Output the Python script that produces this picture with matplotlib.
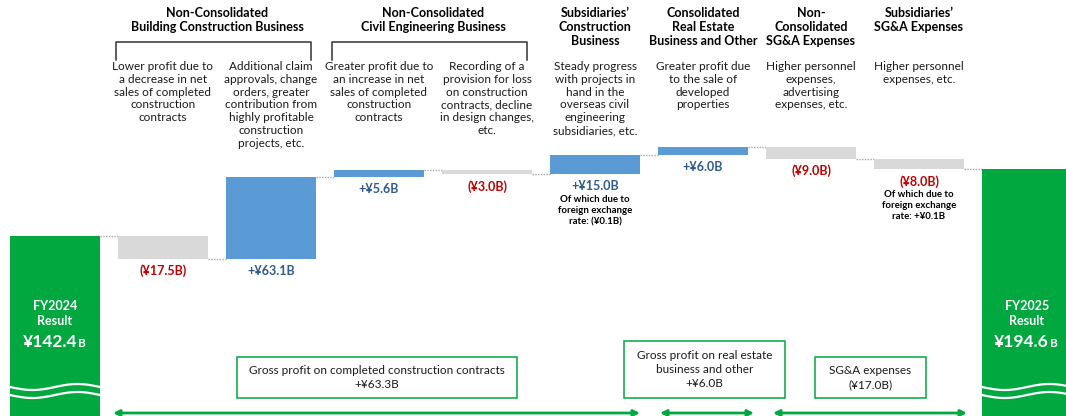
import matplotlib
matplotlib.use("Agg")
import matplotlib.pyplot as plt
import numpy as np
from matplotlib.patches import Rectangle, FancyArrowPatch

plt.rcParams['font.family'] = ['Lato', 'DejaVu Sans']

# ---------------- data ----------------
start_label = "FY2024\nResult"
start_value = 142.4
end_label = "FY2025\nResult"
end_value = 194.6
steps = [-17.5, 63.1, 5.6, -3.0, 15.0, 6.0, -9.0, -8.0]
step_labels = ["(¥17.5B)", "+¥63.1B", "+¥5.6B", "(¥3.0B)", "+¥15.0B", "+¥6.0B", "(¥9.0B)", "(¥8.0B)"]
fx_notes = {4: "Of which due to\nforeign exchange\nrate: (¥0.1B)", 7: "Of which due to\nforeign exchange\nrate: +¥0.1B"}
descriptions = [
    "Lower profit due to\na decrease in net\nsales of completed\nconstruction\ncontracts",
    "Additional claim\napprovals, change\norders, greater\ncontribution from\nhighly profitable\nconstruction\nprojects, etc.",
    "Greater profit due to\nan increase in net\nsales of completed\nconstruction\ncontracts",
    "Recording of a\nprovision for loss\non construction\ncontracts, decline\nin design changes,\netc.",
    "Steady progress\nwith projects in\nhand in the\noverseas civil\nengineering\nsubsidiaries, etc.",
    "Greater profit due\nto the sale of\ndeveloped\nproperties",
    "Higher personnel\nexpenses,\nadvertising\nexpenses, etc.",
    "Higher personnel\nexpenses, etc.",
]
group_headers = [
    ("Non-Consolidated\nBuilding Construction Business", 1, 2),
    ("Non-Consolidated\nCivil Engineering Business", 3, 4),
]
single_headers = {5: "Subsidiaries’\nConstruction\nBusiness",
                  6: "Consolidated\nReal Estate\nBusiness and Other",
                  7: "Non-\nConsolidated\nSG&A Expenses",
                  8: "Subsidiaries’\nSG&A Expenses"}
summary_boxes = [
    ("Gross profit on completed construction contracts\n+¥63.3B", 1, 4),
    ("Gross profit on real estate\nbusiness and other\n+¥6.0B", 5, 5),
    ("SG&A expenses\n(¥17.0B)", 6, 7),
]

GREEN = "#00A83F"
BLUE = "#5B9BD5"
GRAY = "#D9D9D9"
RED = "#C00000"
DBLUE = "#2F5B8C"

W, H = 1066, 416
fig = plt.figure(figsize=(W / 100, H / 100), dpi=100)
ax = fig.add_axes([0, 0, 1, 1])
PXU = 1.29
Y0 = 3.0
ax.set_xlim(-55 / 108, (W - 55) / 108)
ax.set_ylim(Y0, Y0 + H / PXU)
ax.axis('off')

def X(px):
    return (px - 55) / 108

def Y(py):
    return Y0 + (H - py) / PXU

bw = 90 / 108
# cumulative
levels = [start_value]
for s in steps:
    levels.append(levels[-1] + s)

# start / end bars
ax.bar([0], [start_value], width=bw, bottom=0, color=GREEN, zorder=2)
ax.bar([9], [end_value], width=bw, bottom=0, color=GREEN, zorder=2)

# step bars
for i, s in enumerate(steps):
    xi = i + 1
    lo = min(levels[i], levels[i + 1])
    col = BLUE if s > 0 else GRAY
    ax.bar([xi], [abs(s)], width=bw, bottom=lo, color=col, zorder=2)
    # connector
    ax.plot([xi - 1 + bw / 2, xi - bw / 2], [levels[i], levels[i]], ls=(0, (1, 1)),
            color="#A6A6A6", lw=1, zorder=1)
    # value label
    tc = DBLUE if s > 0 else RED
    ax.annotate(step_labels[i], (xi, lo), xytext=(0, -6), textcoords='offset pixels',
                ha='center', va='top', fontsize=9, fontweight='bold', color=tc)
    if i in fx_notes:
        ax.annotate(fx_notes[i], (xi, lo), xytext=(0, -21), textcoords='offset pixels',
                    ha='center', va='top', fontsize=6.9, fontweight='bold', color='black',
                    linespacing=1.3)
    # description
    ax.text(xi, Y(61), descriptions[i], ha='center', va='top', fontsize=8.5,
            color='#1a1a1a', linespacing=1.2)
ax.plot([8 + bw / 2, 9 - bw / 2], [levels[-1], levels[-1]], ls=(0, (1, 1)),
        color="#A6A6A6", lw=1, zorder=1)

# headers
for txt, a, b in group_headers:
    xc = (a + b) / 2
    ax.text(xc, Y(7), txt, ha='center', va='top', fontsize=9, fontweight='bold',
            linespacing=1.2)
    xl = a - bw / 2 - 0.02
    xr = b + bw / 2 - 0.05
    ax.plot([xl, xl, xr, xr], [Y(60), Y(42), Y(42), Y(60)], color='#333333', lw=1.1)
for i, txt in single_headers.items():
    ax.text(i, Y(7), txt, ha='center', va='top', fontsize=9, fontweight='bold',
            linespacing=1.2)

# start/end bar text
fig.canvas.draw()
for xi, lab, val in [(0, start_label, start_value), (9, end_label, end_value)]:
    ax.text(xi, Y(300), lab, ha='center', va='top', color='white', fontsize=9,
            fontweight='bold', linespacing=1.3)
    s = f"¥{val:.1f}"
    t = ax.text(xi - 0.05, Y(342), s, ha='center', va='center', color='white',
                fontsize=12.5, fontweight='bold')
    ax.annotate("B", xy=(1, 0.2), xycoords=t, xytext=(1, 0), textcoords='offset pixels',
                ha='left', va='baseline', color='white', fontsize=8.5, fontweight='bold')
    # wavy break lines
    xx = np.linspace(xi - bw / 2, xi + bw / 2, 100)
    ph = np.sin((xx - (xi - bw / 2)) / bw * 2 * np.pi + np.pi)
    for off in (387, 395):
        ax.plot(xx, Y(off) + ph * 3.0 / PXU, color='white', lw=1.6, zorder=3)

# summary boxes and arrows
box_px = [(237, 357, 517, 398), (624, 341, 785, 398), (815, 357, 926, 398)]
arrow_px = [(113, 640), (660, 754), (773, 967)]
for (txt, a, b), (x0, y0, x1, y1), (ax0, ax1) in zip(summary_boxes, box_px, arrow_px):
    ax.add_patch(Rectangle((X(x0), Y(y1)), X(x1) - X(x0), Y(y0) - Y(y1), fill=False,
                           edgecolor=GREEN, lw=1.1, zorder=3))
    ax.text((X(x0) + X(x1)) / 2, (Y(y0) + Y(y1)) / 2, txt, ha='center', va='center',
            fontsize=8.5, color='#1a1a1a', linespacing=1.35)
    ax.add_patch(FancyArrowPatch((X(ax0), Y(413)), (X(ax1), Y(413)), arrowstyle='<|-|>',
                                 mutation_scale=9, color=GREEN, lw=2, shrinkA=0, shrinkB=0))

fig.savefig("out.png", dpi=100)
